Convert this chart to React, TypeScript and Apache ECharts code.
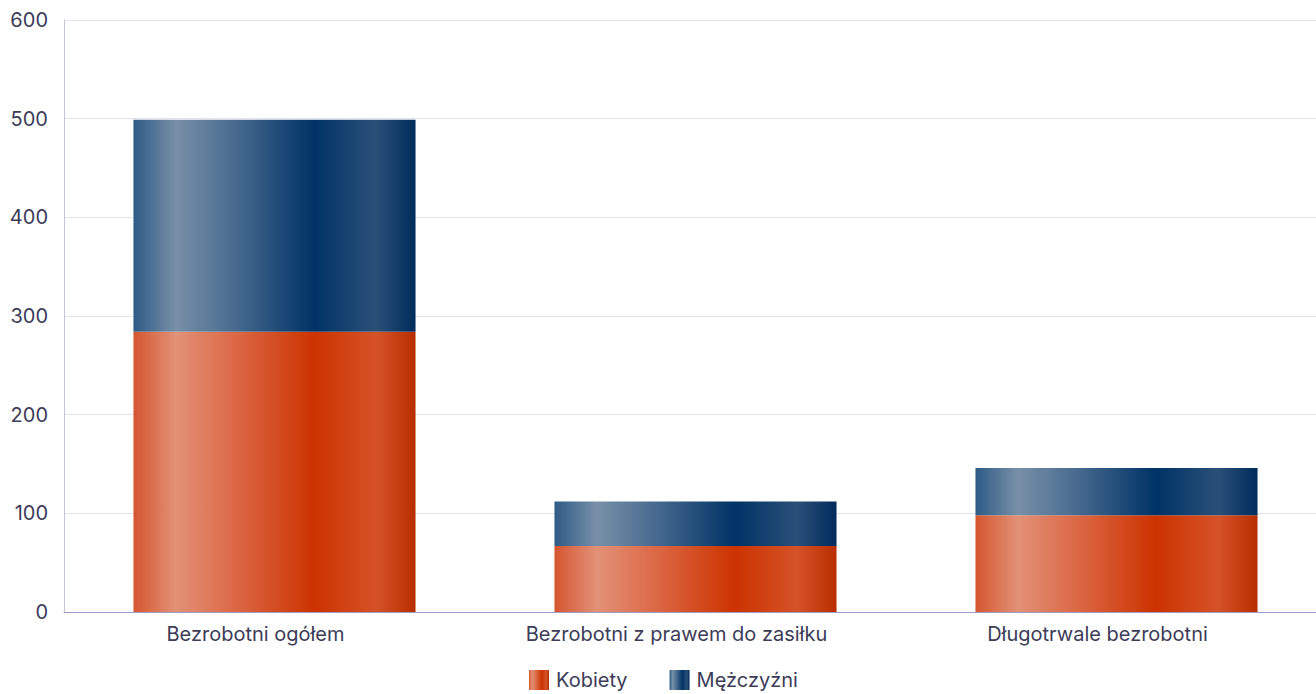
import React, { useEffect, useRef } from "react";
import * as echarts from "echarts";

const categories = ["Bezrobotni ogółem", "Bezrobotni z prawem do zasiłku", "Długotrwale bezrobotni"];
const kobiety = [284, 67, 98];
const mezczyzni = [215, 45, 48];
const yTicks = { min: 0, max: 600, interval: 100 };

const redGrad = () =>
  new echarts.graphic.LinearGradient(0, 0, 1, 0, [
    { offset: 0, color: "#d5552f" },
    { offset: 0.15, color: "#e29177" },
    { offset: 0.35, color: "#dc6a48" },
    { offset: 0.64, color: "#cc3300" },
    { offset: 0.86, color: "#d55228" },
    { offset: 1, color: "#b82e00" },
  ]);
const blueGrad = () =>
  new echarts.graphic.LinearGradient(0, 0, 1, 0, [
    { offset: 0, color: "#2d5a85" },
    { offset: 0.15, color: "#7890a8" },
    { offset: 0.35, color: "#4a6c90" },
    { offset: 0.64, color: "#003366" },
    { offset: 0.86, color: "#2a5078" },
    { offset: 1, color: "#002b5c" },
  ]);

export default function App() {
  const ref = useRef<HTMLDivElement>(null);
  useEffect(() => {
    if (!ref.current) return;
    const chart = echarts.init(ref.current, undefined, { renderer: "svg" });
    const font = "Inter, 'Noto Sans', sans-serif";
    chart.setOption({
      animation: false,
      grid: { left: 64, right: 0, top: 20, bottom: 82, containLabel: false },
      legend: {
        bottom: -1,
        left: 524,
        itemWidth: 20,
        itemHeight: 20,
        itemGap: 42,
        icon: "rect",
        textStyle: { color: "#3c3c58", fontSize: 20, fontFamily: font, padding: [0, 0, 0, 2] },
        data: ["Kobiety", "Mężczyźni"],
      },
      xAxis: {
        type: "category",
        data: categories,
        axisLine: { lineStyle: { color: "#9c9ec4", width: 1 } },
        axisTick: { show: false },
        axisLabel: {
          color: "#3c3c58",
          fontSize: 20,
          fontFamily: font,
          margin: 12,
          padding: [0, 38, 0, 0],
        },
      },
      yAxis: {
        type: "value",
        min: yTicks.min,
        max: yTicks.max,
        interval: yTicks.interval,
        axisLine: { show: true, lineStyle: { color: "#c4c6da" } },
        axisTick: { show: false },
        splitLine: { lineStyle: { color: "#e2e2ee" } },
        axisLabel: { color: "#3c3c58", fontSize: 20, fontFamily: font, margin: 16 },
      },
      series: [
        {
          name: "Kobiety",
          type: "bar",
          stack: "a",
          barWidth: "67%",
          data: kobiety,
          itemStyle: { color: redGrad() },
        },
        {
          name: "Mężczyźni",
          type: "bar",
          stack: "a",
          barWidth: "67%",
          data: mezczyzni,
          itemStyle: { color: blueGrad() },
        },
      ],
    });
    return () => chart.dispose();
  }, []);
  return (
    <div style={{ position: "absolute", left: 0, top: 0, width: 1316, height: 694, overflow: "hidden" }}>
      <div ref={ref} style={{ width: 1327, height: 694 }} />
    </div>
  );
}
